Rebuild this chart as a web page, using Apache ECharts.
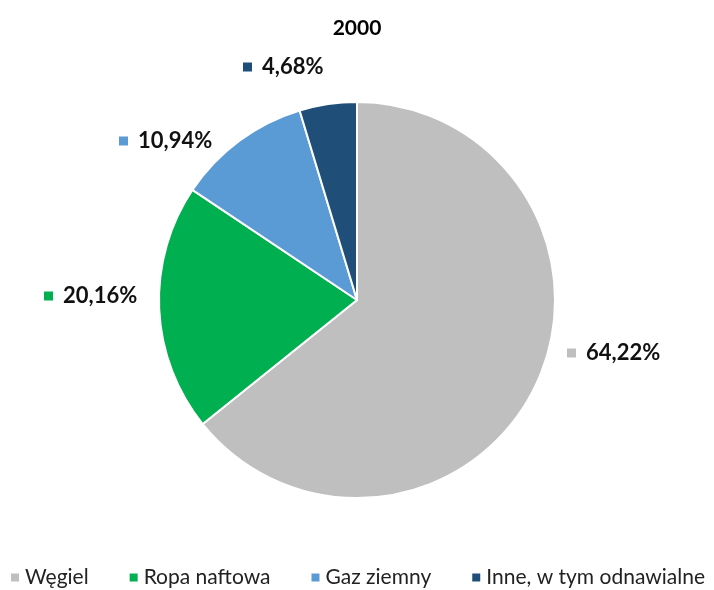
<!DOCTYPE html>
<html><head><meta charset="utf-8">
<script src="https://cdn.jsdelivr.net/npm/echarts@6/dist/echarts.min.js"></script>
<style>html,body{margin:0;padding:0;background:#fff}#c{width:714px;height:590px}</style>
</head><body><div id="c"></div>
<script>
const title = '2000';
const categories = ['Węgiel', 'Ropa naftowa', 'Gaz ziemny', 'Inne, w tym odnawialne'];
const values = [64.22, 20.16, 10.94, 4.68];
const colors = ['#BFBFBF', '#00B050', '#5B9BD5', '#1F4E79'];
const labelPos = [[567, 353], [44, 296], [119, 141], [243, 67]];

const chart = echarts.init(document.getElementById('c'));
const FONT = 'Lato, "Open Sans", sans-serif';
chart.setOption({
  animation: false,
  title: { text: title, left: 'center', top: 13, textStyle: { fontFamily: FONT, fontSize: 21, fontWeight: 'bold', color: '#000' } },
  legend: {
    top: 562, left: 'center', itemWidth: 10, itemHeight: 10, itemGap: 39, icon: 'rect',
    textStyle: { fontFamily: FONT, fontSize: 21, color: '#222' },
    data: categories
  },
  series: [{
    type: 'pie', center: [357, 300], radius: 198, startAngle: 90, clockwise: true,
    itemStyle: { borderColor: '#fff', borderWidth: 2 },
    labelLine: { show: false },
    label: {
      show: true, position: 'outside',
      formatter: p => '{m|}{s|}{v|' + p.value.toFixed(2).replace('.', ',') + '%}',
      rich: {
        m: { width: 9, height: 9 },
        s: { width: 10 },
        v: { fontSize: 22, fontWeight: 'bold', fontFamily: FONT, color: '#111' }
      }
    },
    labelLayout: p => ({ x: labelPos[p.dataIndex][0], y: labelPos[p.dataIndex][1], align: 'left', verticalAlign: 'middle' }),
    data: categories.map((n, i) => ({ name: n, value: values[i], itemStyle: { color: colors[i] }, label: { rich: { m: { backgroundColor: colors[i] } } } }))
  }]
});
</script></body></html>
